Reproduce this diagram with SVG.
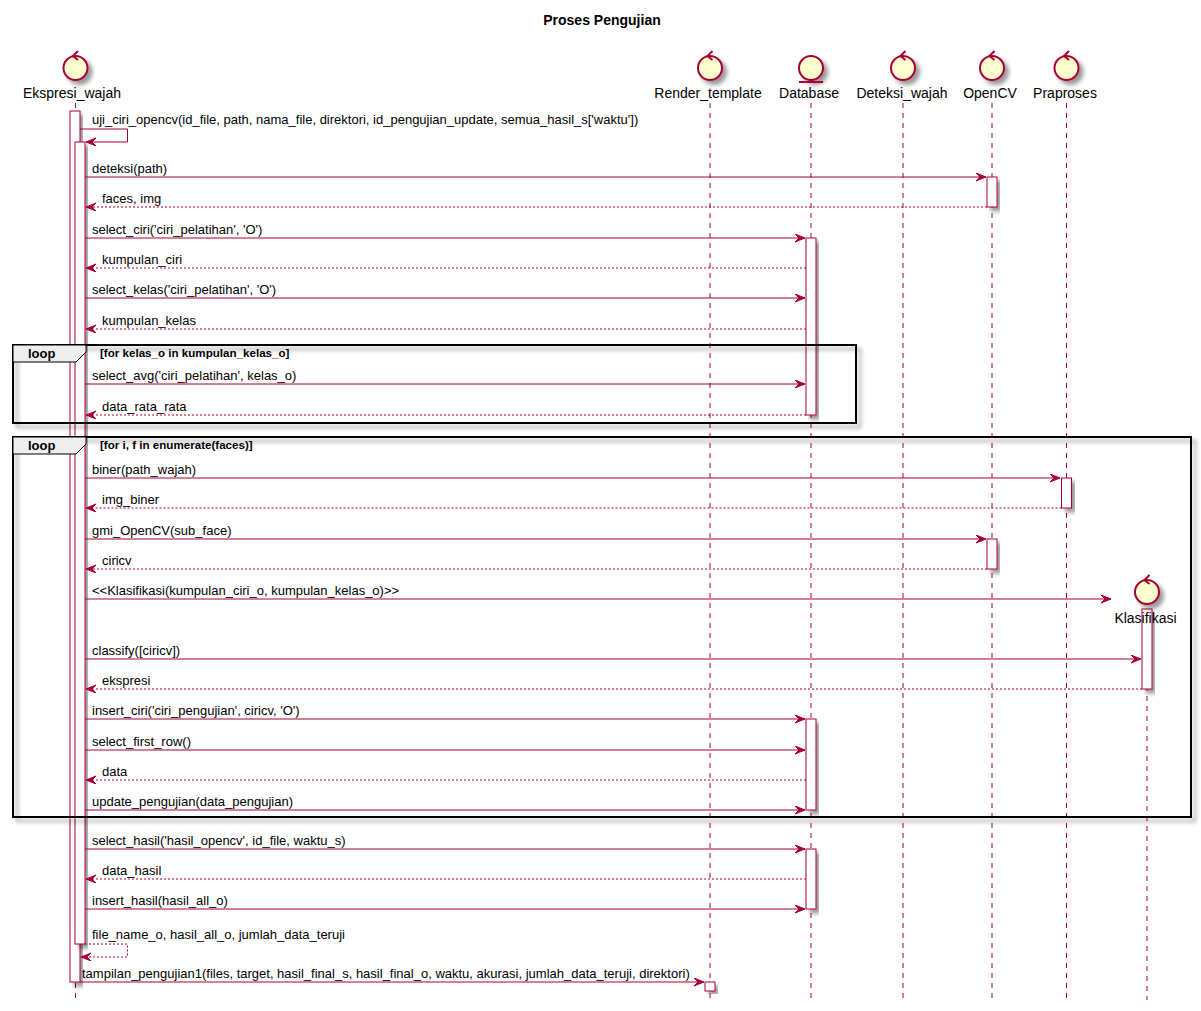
<svg xmlns="http://www.w3.org/2000/svg" width="1201" height="1011" viewBox="0 0 1201 1011">
<style>
text{font-family:"Liberation Sans",Arial,sans-serif;fill:#000}
.t{font-size:13px}
.p{font-size:14px;text-anchor:middle}
.title{font-size:14px;font-weight:bold;text-anchor:middle}
.lf{stroke:#A80036;stroke-width:1;stroke-dasharray:5,5;fill:none}
.act{fill:#FFFFFF;stroke:#A80036;stroke-width:1;filter:url(#sh)}
.icon{fill:#FEFECE;stroke:#A80036;stroke-width:2;filter:url(#sh)}
.ic{fill:none;stroke:#A80036;stroke-width:2}
.m{stroke:#A80036;stroke-width:1;fill:none;marker-end:url(#ah)}
.r{stroke:#A80036;stroke-width:1;fill:none;stroke-dasharray:2,2;marker-end:url(#ah)}
.frame{fill:none;stroke:#000;stroke-width:2;filter:url(#sh)}
.tab{fill:#EEEEEE;stroke:#000;stroke-width:1}
.lt{font-size:13px;font-weight:bold}
.cond{font-size:11.6px;font-weight:bold}
</style>
<defs>
<filter id="sh" x="-20%" y="-20%" width="150%" height="150%">
<feGaussianBlur in="SourceAlpha" stdDeviation="2" result="b"/>
<feOffset in="b" dx="4" dy="4" result="o"/>
<feComponentTransfer in="o" result="s"><feFuncA type="linear" slope="0.4"/></feComponentTransfer>
<feMerge><feMergeNode in="s"/><feMergeNode in="SourceGraphic"/></feMerge>
</filter>
<marker id="ah" markerUnits="userSpaceOnUse" markerWidth="12" markerHeight="10" refX="10" refY="4" orient="auto" viewBox="0 0 12 10">
<path d="M0,0 L10,4 L0,8 L4,4 Z" fill="#A80036" stroke="#A80036" stroke-width="1"/>
</marker>
</defs>
<rect width="1201" height="1011" fill="#FFFFFF"/>
<text class="title" x="602" y="25">Proses Pengujian</text>

<g id="lifelines">
<line class="lf" x1="75.5" y1="103" x2="75.5" y2="1000"/>
<line class="lf" x1="710" y1="103" x2="710" y2="1000"/>
<line class="lf" x1="811" y1="103" x2="811" y2="1000"/>
<line class="lf" x1="903" y1="103" x2="903" y2="1000"/>
<line class="lf" x1="992" y1="103" x2="992" y2="1000"/>
<line class="lf" x1="1066.5" y1="103" x2="1066.5" y2="1000"/>
<line class="lf" x1="1147" y1="626" x2="1147" y2="1000"/>
</g>

<g id="Ekspresi_wajah">
<circle class="icon" cx="75.5" cy="68" r="12"/>
<path class="ic" d="M78,51 L73,56 L78,60"/>
<text class="p" x="72" y="98">Ekspresi_wajah</text>
</g>
<g id="Render_template">
<circle class="icon" cx="710" cy="68" r="12"/>
<path class="ic" d="M712.5,51 L707.5,56 L712.5,60"/>
<text class="p" x="708" y="98">Render_template</text>
</g>
<g id="Database">
<circle class="icon" cx="811" cy="68" r="12"/>
<line class="ic" x1="799" y1="82" x2="823" y2="82"/>
<text class="p" x="809" y="98">Database</text>
</g>
<g id="Deteksi_wajah">
<circle class="icon" cx="903" cy="68" r="12"/>
<path class="ic" d="M905.5,51 L900.5,56 L905.5,60"/>
<text class="p" x="902" y="98">Deteksi_wajah</text>
</g>
<g id="OpenCV">
<circle class="icon" cx="992" cy="68" r="12"/>
<path class="ic" d="M994.5,51 L989.5,56 L994.5,60"/>
<text class="p" x="990" y="98">OpenCV</text>
</g>
<g id="Praproses">
<circle class="icon" cx="1066.5" cy="68" r="12"/>
<path class="ic" d="M1069,51 L1064,56 L1069,60"/>
<text class="p" x="1065" y="98">Praproses</text>
</g>

<g id="activations">
<rect class="act" x="70" y="111" width="10" height="871"/>
<rect class="act" x="75" y="142" width="10" height="802"/>
<rect class="act" x="987" y="177" width="10" height="30"/>
<rect class="act" x="806" y="238" width="10" height="177"/>
<rect class="act" x="1061.5" y="478" width="10" height="30"/>
<rect class="act" x="987" y="539" width="10" height="30"/>
<rect class="act" x="1142" y="609" width="10" height="80"/>
<rect class="act" x="806" y="719" width="10" height="91"/>
<rect class="act" x="806" y="849" width="10" height="60"/>
<rect class="act" x="705" y="982" width="10" height="9"/>
</g>

<g id="Klasifikasi">
<circle class="icon" cx="1147" cy="592" r="12"/>
<path class="ic" d="M1149.5,575 L1144.5,580 L1149.5,584"/>
<text class="p" x="1145.5" y="623">Klasifikasi</text>
</g>

<g id="loop1">
<rect class="frame" x="13" y="345" width="843" height="78"/>
<path class="tab" d="M13,345 L86,345 L86,352 L76,362 L13,362 Z"/>
<text class="lt" x="28" y="358">loop</text>
<text class="cond" x="100" y="357">[for kelas_o in kumpulan_kelas_o]</text>
</g>
<g id="loop2">
<rect class="frame" x="13" y="437" width="1178" height="380"/>
<path class="tab" d="M13,437 L86,437 L86,444 L76,454 L13,454 Z"/>
<text class="lt" x="28" y="450">loop</text>
<text class="cond" x="100" y="449">[for i, f in enumerate(faces)]</text>
</g>

<g id="connectors">
<path class="m" d="M80,129 L127.5,129 L127.5,142 L86,142"/>
<line class="m" x1="85" y1="177" x2="986" y2="177"/>
<line class="r" x1="987" y1="207" x2="86" y2="207"/>
<line class="m" x1="85" y1="238" x2="805" y2="238"/>
<line class="r" x1="806" y1="268" x2="86" y2="268"/>
<line class="m" x1="85" y1="298" x2="805" y2="298"/>
<line class="r" x1="806" y1="329" x2="86" y2="329"/>
<line class="m" x1="85" y1="384" x2="805" y2="384"/>
<line class="r" x1="806" y1="415" x2="86" y2="415"/>
<line class="m" x1="85" y1="478" x2="1060" y2="478"/>
<line class="r" x1="1061.5" y1="508" x2="86" y2="508"/>
<line class="m" x1="85" y1="539" x2="986" y2="539"/>
<line class="r" x1="987" y1="569" x2="86" y2="569"/>
<line class="m" x1="85" y1="599" x2="1111" y2="599"/>
<line class="m" x1="85" y1="659" x2="1141" y2="659"/>
<line class="r" x1="1142" y1="689" x2="86" y2="689"/>
<line class="m" x1="85" y1="719" x2="805" y2="719"/>
<line class="m" x1="85" y1="750" x2="805" y2="750"/>
<line class="r" x1="806" y1="780" x2="86" y2="780"/>
<line class="m" x1="85" y1="810" x2="805" y2="810"/>
<line class="m" x1="85" y1="849" x2="805" y2="849"/>
<line class="r" x1="806" y1="879" x2="86" y2="879"/>
<line class="m" x1="85" y1="909" x2="805" y2="909"/>
<path class="r" d="M85,944 L127.5,944 L127.5,957 L81,957"/>
<line class="m" x1="80" y1="982" x2="704" y2="982"/>
</g>

<g id="labels">
<text class="t" x="92" y="124">uji_ciri_opencv(id_file, path, nama_file, direktori, id_pengujian_update, semua_hasil_s['waktu'])</text>
<text class="t" x="92" y="173">deteksi(path)</text>
<text class="t" x="102" y="203">faces, img</text>
<text class="t" x="92" y="234">select_ciri('ciri_pelatihan', 'O')</text>
<text class="t" x="102" y="264">kumpulan_ciri</text>
<text class="t" x="92" y="294">select_kelas('ciri_pelatihan', 'O')</text>
<text class="t" x="102" y="325">kumpulan_kelas</text>
<text class="t" x="92" y="380">select_avg('ciri_pelatihan', kelas_o)</text>
<text class="t" x="102" y="411">data_rata_rata</text>
<text class="t" x="92" y="474">biner(path_wajah)</text>
<text class="t" x="102" y="504">img_biner</text>
<text class="t" x="92" y="535">gmi_OpenCV(sub_face)</text>
<text class="t" x="102" y="565">ciricv</text>
<text class="t" x="92" y="595">&lt;&lt;Klasifikasi(kumpulan_ciri_o, kumpulan_kelas_o)&gt;&gt;</text>
<text class="t" x="92" y="655">classify([ciricv])</text>
<text class="t" x="102" y="685">ekspresi</text>
<text class="t" x="92" y="715">insert_ciri('ciri_pengujian', ciricv, 'O')</text>
<text class="t" x="92" y="746">select_first_row()</text>
<text class="t" x="102" y="776">data</text>
<text class="t" x="92" y="806">update_pengujian(data_pengujian)</text>
<text class="t" x="92" y="845">select_hasil('hasil_opencv', id_file, waktu_s)</text>
<text class="t" x="102" y="875">data_hasil</text>
<text class="t" x="92" y="905">insert_hasil(hasil_all_o)</text>
<text class="t" x="92" y="939">file_name_o, hasil_all_o, jumlah_data_teruji</text>
<text class="t" x="82" y="978">tampilan_pengujian1(files, target, hasil_final_s, hasil_final_o, waktu, akurasi, jumlah_data_teruji, direktori)</text>
</g>
</svg>
